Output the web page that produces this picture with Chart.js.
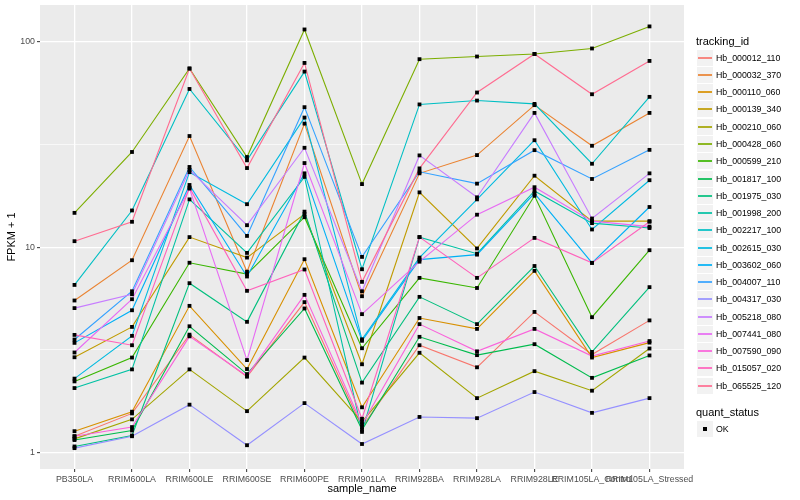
<!DOCTYPE html>
<html>
<head>
<meta charset="utf-8">
<script src="https://cdn.jsdelivr.net/npm/chart.js@4.4.1/dist/chart.umd.min.js"></script>
<style>
  body { margin: 0; background: #fff; font-family: "Liberation Sans", Arial, sans-serif; }
  #wrap { position: relative; width: 800px; height: 500px; overflow: hidden; }
  #chart { position: absolute; left: 0; top: 0; }
  .lg-title { position: absolute; left: 696px; height: 16px; line-height: 16px; font-size: 11px; color: #000; white-space: nowrap; }
  .lg-key { position: absolute; left: 697px; width: 16px; height: 16px; background: #F2F2F2; }
  .lg-key span { position: absolute; left: 1px; top: 7px; width: 14px; height: 2px; opacity: 0.85; }
  .lg-key b { position: absolute; left: 6px; top: 6px; width: 4px; height: 4px; background: #000; }
  .lg-text { position: absolute; left: 716px; height: 16px; line-height: 16px; font-size: 8.8px; color: #000; white-space: nowrap; }
</style>
</head>
<body>
<div id="wrap">
  <canvas id="chart" width="800" height="500"></canvas>
  <div id="legend"></div>
</div>
<script>
// Categories (x axis)
const samples = ['PB350LA', 'RRIM600LA', 'RRIM600LE', 'RRIM600SE', 'RRIM600PE', 'RRIM901LA',
  'RRIM928BA', 'RRIM928LA', 'RRIM928LE', 'RRIM105LA_Control', 'RRIM105LA_Stressed'];

const trackingIds = ['Hb_000012_110', 'Hb_000032_370', 'Hb_000110_060', 'Hb_000139_340',
  'Hb_000210_060', 'Hb_000428_060', 'Hb_000599_210', 'Hb_001817_100', 'Hb_001975_030',
  'Hb_001998_200', 'Hb_002217_100', 'Hb_002615_030', 'Hb_003602_060', 'Hb_004007_110',
  'Hb_004317_030', 'Hb_005218_080', 'Hb_007441_080', 'Hb_007590_090', 'Hb_015057_020',
  'Hb_065525_120'];

const seriesColors = ['#F8766D', '#EA8331', '#D89000', '#C09B00', '#A3A500', '#7CAE00',
  '#39B600', '#00BB4E', '#00BF7D', '#00C1A3', '#00BFC4', '#00BAE0', '#00B0F6', '#35A2FF',
  '#9590FF', '#C77CFF', '#E76BF3', '#FA62DB', '#FF62BC', '#FF6C91'];

// FPKM + 1 per sample
const hb000012_110 = [1.20, 1.55, 3.75, 2.34, 5.4, 1.33, 3.33, 2.60, 4.84, 3.0, 4.40];
const hb000032_370 = [5.5, 8.64, 34.8, 7.6, 40, 5.77, 22.9, 28.1, 49.2, 31.2, 45.1];
const hb000110_060 = [1.27, 1.58, 5.18, 2.55, 8.74, 1.66, 4.52, 4.0, 7.67, 2.9, 3.43];
const hb000139_340 = [2.91, 4.09, 11.2, 8.9, 14.5, 2.69, 18.5, 9.86, 22.3, 13.4, 13.4];
const hb000210_060 = [1.165, 1.45, 2.54, 1.59, 2.90, 1.41, 3.06, 1.84, 2.49, 2.0, 3.21];
const hb000428_060 = [14.7, 29.1, 74.2, 27.5, 115, 20.3, 82.4, 84.9, 87.4, 92.9, 119];
const hb000599_210 = [2.22, 2.90, 8.4, 7.4, 14.0, 3.22, 7.09, 6.33, 17.8, 4.56, 9.67];
const hb001817_100 = [1.15, 1.28, 4.12, 2.41, 5.03, 1.29, 3.66, 2.98, 3.37, 2.31, 2.97];
const hb001975_030 = [1.07, 1.21, 6.68, 4.33, 14.9, 2.19, 5.73, 4.22, 8.1, 3.09, 6.39];
const hb001998_200 = [2.06, 2.54, 17.1, 9.38, 22.0, 1.26, 11.2, 9.3, 18.8, 13.1, 12.4];
const hb002217_100 = [6.55, 15.1, 59, 26.5, 71.7, 7.81, 49.6, 51.8, 49.9, 25.5, 54];
const hb002615_030 = [2.29, 3.70, 23.2, 16.2, 42.8, 3.56, 8.9, 17.1, 33.2, 12.2, 21.2];
const hb003602_060 = [3.42, 4.93, 20.1, 7.2, 22.9, 3.5, 8.7, 9.2, 18.3, 8.39, 15.7];
const hb004007_110 = [3.55, 6.1, 24.6, 11.35, 48.1, 8.97, 23.3, 20.4, 29.7, 21.5, 29.8];
const hb004317_030 = [1.05, 1.20, 1.71, 1.085, 1.74, 1.10, 1.49, 1.47, 1.97, 1.56, 1.84];
const hb005218_080 = [5.05, 5.9, 23.8, 12.8, 30.5, 6.1, 28.0, 17.5, 45.1, 13.8, 22.9];
const hb007441_080 = [3.07, 5.58, 19.3, 2.82, 25.7, 4.72, 8.5, 14.4, 19.6, 13.4, 12.6];
const hb007590_090 = [1.20, 1.33, 3.68, 2.36, 5.86, 1.37, 4.22, 3.11, 4.0, 2.95, 3.49];
const hb015057_020 = [3.74, 3.33, 19.5, 6.13, 7.79, 1.46, 11.2, 7.09, 11.1, 8.39, 13.3];
const hb065525_120 = [10.7, 13.3, 74.2, 24.3, 79, 6.78, 24.2, 56.7, 87.4, 55.6, 80.8];

const seriesValues = [hb000012_110, hb000032_370, hb000110_060, hb000139_340, hb000210_060,
  hb000428_060, hb000599_210, hb001817_100, hb001975_030, hb001998_200, hb002217_100,
  hb002615_030, hb003602_060, hb004007_110, hb004317_030, hb005218_080, hb007441_080,
  hb007590_090, hb015057_020, hb065525_120];

// Y axis ticks (log scale)
const yMajorTicks = [1, 10, 100];
const yMinorTicks = [3.162, 31.62];
const yMin = 0.831;
const yMax = 151.3;

const fontFamily = '"Liberation Sans", Arial, sans-serif';

// Grey panel behind the plot
const panelBg = {
  id: 'panelBg',
  beforeDraw(chart) {
    const { ctx, chartArea: a } = chart;
    ctx.save();
    ctx.fillStyle = '#FFFFFF';
    ctx.fillRect(0, 0, chart.width, chart.height);
    ctx.fillStyle = '#EBEBEB';
    ctx.fillRect(a.left, a.top, a.right - a.left, a.bottom - a.top);
    ctx.restore();
  }
};

const toPoints = values => values.map((v, j) => ({ x: j, y: v }));

const lineSets = trackingIds.map((id, i) => ({
  label: id,
  data: toPoints(seriesValues[i]),
  borderColor: seriesColors[i],
  borderWidth: 1.1,
  pointRadius: 0,
  fill: false,
  tension: 0,
  order: 100 - i
}));

const pointSets = trackingIds.map((id, i) => ({
  label: id + ' OK',
  data: toPoints(seriesValues[i]),
  showLine: false,
  pointStyle: 'rect',
  pointRadius: 2.7,
  pointBackgroundColor: '#000000',
  pointBorderWidth: 0,
  order: 1
}));

const ctx = document.getElementById('chart').getContext('2d');
new Chart(ctx, {
  type: 'line',
  data: { datasets: [...lineSets, ...pointSets] },
  plugins: [panelBg],
  options: {
    responsive: false,
    animation: false,
    devicePixelRatio: 1,
    layout: { padding: { top: 5, left: 0, right: 116, bottom: 0 } },
    plugins: {
      legend: { display: false },
      tooltip: { enabled: false }
    },
    scales: {
      x: {
        type: 'linear',
        min: -0.6,
        max: 10.6,
        afterBuildTicks: s => { s.ticks = samples.map((_, j) => ({ value: j })); },
        afterFit: s => { s.height = 31; s.paddingLeft = 0; s.paddingRight = 0; },
        ticks: {
          autoSkip: false,
          maxRotation: 0,
          padding: 2,
          color: '#4D4D4D',
          font: { size: 8.8, family: fontFamily },
          callback: v => samples[v]
        },
        grid: { color: '#FFFFFF', lineWidth: 1.3, tickColor: '#333333', tickLength: 3, tickWidth: 1 },
        border: { display: false },
        title: {
          display: true,
          text: 'sample_name',
          color: '#000000',
          font: { size: 11, family: fontFamily },
          padding: { top: 0, bottom: 4 }
        }
      },
      y: {
        type: 'logarithmic',
        min: yMin,
        max: yMax,
        afterBuildTicks: s => {
          s.ticks = [...yMajorTicks, ...yMinorTicks].sort((a, b) => a - b).map(v => ({ value: v }));
        },
        afterFit: s => { s.width = 40; s.paddingTop = 0; s.paddingBottom = 0; },
        ticks: {
          autoSkip: false,
          padding: 2,
          color: '#4D4D4D',
          font: { size: 8.8, family: fontFamily },
          callback: v => yMajorTicks.includes(v) ? String(v) : ''
        },
        grid: {
          color: '#FFFFFF',
          lineWidth: c => yMajorTicks.includes(c.tick.value) ? 1.3 : 0.65,
          tickColor: c => yMajorTicks.includes(c.tick.value) ? '#333333' : 'rgba(0,0,0,0)',
          tickLength: 3,
          tickWidth: 1
        },
        border: { display: false },
        title: {
          display: true,
          text: 'FPKM + 1',
          color: '#000000',
          font: { size: 11, family: fontFamily },
          padding: { top: 5, bottom: 0 }
        }
      }
    }
  }
});

// Legend on the right, built from the same arrays
const legend = document.getElementById('legend');
let html = '<div class="lg-title" style="top:33px">tracking_id</div>';
trackingIds.forEach((id, i) => {
  const top = Math.round(57.7 + i * 17.26 - 8);
  html += `<div class="lg-key" style="top:${top}px"><span style="background:${seriesColors[i]}"></span></div>`;
  html += `<div class="lg-text" style="top:${top}px">${id}</div>`;
});
html += '<div class="lg-title" style="top:404px">quant_status</div>';
html += '<div class="lg-key" style="top:421px"><b></b></div>';
html += '<div class="lg-text" style="top:421px">OK</div>';
legend.innerHTML = html;
</script>
</body>
</html>
